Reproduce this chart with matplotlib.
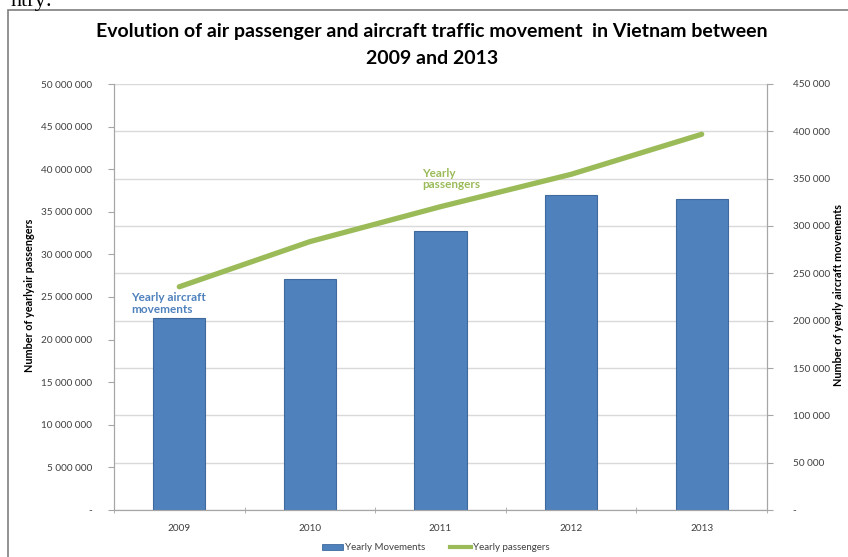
import numpy as np
import matplotlib.pyplot as plt
from matplotlib.ticker import FuncFormatter, MultipleLocator
from matplotlib.patches import Rectangle
from matplotlib.lines import Line2D

# dati
years = ["2009", "2010", "2011", "2012", "2013"]
movements = [203000, 243700, 294700, 332700, 328900]          # asse destro
passengers = [26200000, 31500000, 35600000, 39400000, 44100000]  # asse sinistro

BLUE = "#4F81BD"
GREEN = "#9BBB59"
GRID = "#D9D9D9"
AXC = "#A6A6A6"
TXT = "#404040"

plt.rcParams["font.family"] = ["Lato", "DejaVu Sans"]

W, H = 848, 557
fig = plt.figure(figsize=(W / 100, H / 100), dpi=100)

# cornice del grafico (continua oltre il bordo destro e inferiore)
fig.patches.append(Rectangle((8 / W, -0.1), 1.2, 1.1 - 10 / H,
                             transform=fig.transFigure, fill=False,
                             edgecolor="#7F7F7F", lw=1.2))
# testo del documento tagliato in alto
fig.text(10 / W, 1 - 6 / H, "ntry:", family="Liberation Serif", fontsize=16,
         va="baseline", ha="left", color="black")

ax = fig.add_axes([114 / W, 1 - 510 / H, 653 / W, 426 / H])
ax2 = ax.twinx()

x = np.arange(len(years))
ax2.bar(x, movements, width=0.4, color=BLUE, edgecolor="#3E6A9E", lw=0.8, zorder=2)
ax.plot(x, passengers, color=GREEN, lw=3.8, solid_capstyle="round", zorder=3)

ax.set_zorder(ax2.get_zorder() + 1)
ax.patch.set_visible(False)

ax.set_xlim(-0.5, len(years) - 0.5)
ax.set_ylim(0, 50000000)
ax2.set_ylim(0, 450000)
ax.yaxis.set_major_locator(MultipleLocator(5000000))
ax2.yaxis.set_major_locator(MultipleLocator(50000))


def fmt(v, pos):
    if v == 0:
        return "-"
    return f"{int(v):,}".replace(",", " ")


ax.yaxis.set_major_formatter(FuncFormatter(fmt))
ax2.yaxis.set_major_formatter(FuncFormatter(fmt))

for a in (ax, ax2):
    for s in a.spines.values():
        s.set_color(AXC)
    a.spines["top"].set_visible(False)

ax2.yaxis.grid(True, color=GRID, lw=1)
ax2.set_axisbelow(True)

ax.set_xticks(x)
ax.set_xticklabels(years)
ax.set_xticks(np.arange(-0.5, len(years)), minor=True)
ax.tick_params(axis="x", which="major", length=0, pad=10, labelsize=7.2, labelcolor=TXT)
ax.tick_params(axis="x", which="minor", length=5, color=AXC, direction="inout")
ax.tick_params(axis="y", length=4, color=AXC, pad=11.5, labelsize=7.2, labelcolor=TXT)
ax2.tick_params(axis="y", length=4, color=AXC, pad=14.5, labelsize=7.2, labelcolor=TXT)

ax.set_ylabel("Number of yearlyair passengers", fontsize=7.8, fontweight="bold",
              color="black")
ax.yaxis.set_label_coords(-0.121, 0.505)
ax2.set_ylabel("Number of yearly aircraft movements", fontsize=7.8,
               fontweight="bold", color="black", rotation=90)
ax2.yaxis.set_label_coords(1.101, 0.505)

# etichette delle serie
ax.annotate("Yearly aircraft\nmovements", xy=(-0.37, 0.484), xycoords=("data", "axes fraction"),
            color=BLUE, fontsize=8.5, fontweight="bold", ha="left", va="center",
            linespacing=1.1)
ax.annotate("Yearly\npassengers", xy=(1.86, 0.777), xycoords=("data", "axes fraction"),
            color=GREEN, fontsize=8.5, fontweight="bold", ha="left", va="center",
            linespacing=1.1)

fig.text(432 / W, 1 - 32 / H, "Evolution of air passenger and aircraft traffic movement  in Vietnam between",
         ha="center", va="center", fontsize=14, fontweight="bold", color="black")
fig.text(432 / W, 1 - 59 / H, "2009 and 2013",
         ha="center", va="center", fontsize=14, fontweight="bold", color="black")

handles = [Rectangle((0, 0), 1, 1, facecolor=BLUE, edgecolor="#3E6A9E", lw=0.6),
           Line2D([], [], color=GREEN, lw=3)]
fig.legend(handles, ["Yearly Movements", "Yearly passengers"], loc="center",
           bbox_to_anchor=(436 / W, 1 - 548 / H), ncol=2, frameon=False,
           fontsize=7, handlelength=2.2, handleheight=0.6, handletextpad=0.2,
           columnspacing=2.5, labelcolor=TXT)

fig.savefig("out.png", dpi=100)
